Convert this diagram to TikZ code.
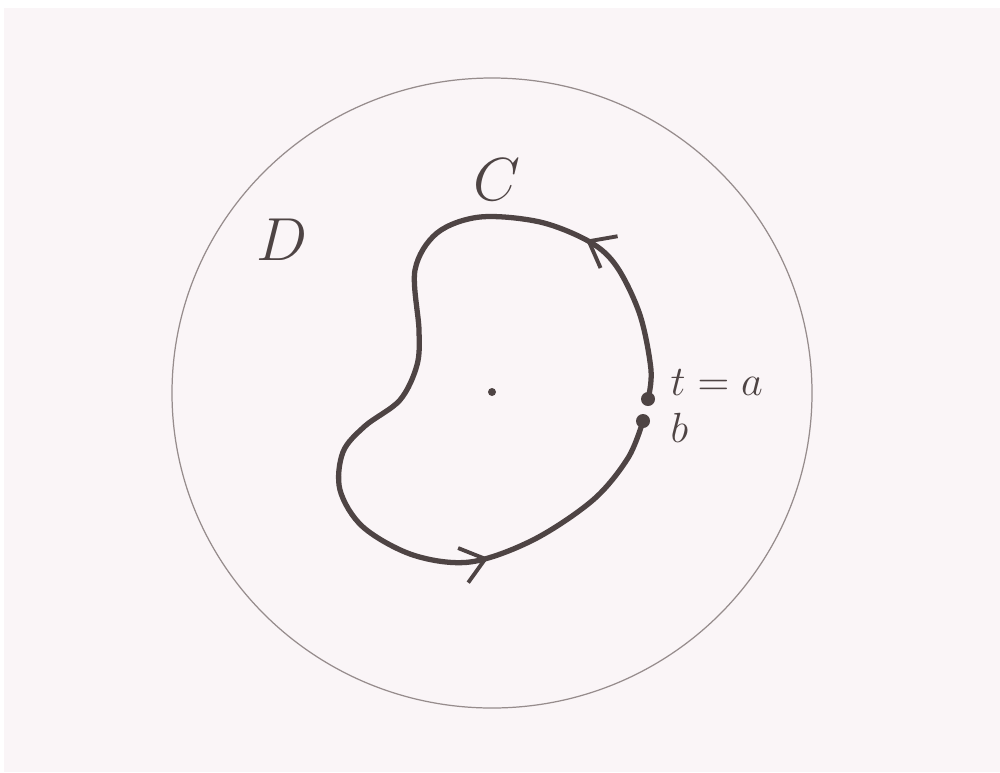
\documentclass[tikz,border=0pt]{standalone}
\usepackage{amsmath}
\usepackage{tikz}
\usetikzlibrary{arrows.meta, decorations.markings}

\definecolor{paper}{RGB}{250,245,247}
\definecolor{pencil}{RGB}{78,68,68}
\definecolor{rimgray}{RGB}{150,140,140}

\begin{document}
\begin{tikzpicture}[
  x=0.01cm, y=-0.01cm,
  rim/.style={rimgray, line width=0.35pt},
  curve/.style={pencil, line width=1.5pt, line cap=round, line join=round,
    decoration={markings,
      mark=at position 0.176 with {\arrow{Straight Barb[length=2.3mm, width=3.6mm, line width=1.1pt]}},
      mark=at position 0.79 with {\arrow{Straight Barb[length=2.3mm, width=3.6mm, line width=1.1pt]}}},
    postaction={decorate}},
  pt/.style={fill=pencil},
  lbl/.style={text=pencil, inner sep=0pt}
]
% paper
\fill[white] (0,0) rectangle (1000,772);
\fill[paper] (4,8) rectangle (1000,772);
\useasboundingbox (0,0) rectangle (1000,772);

% region D
\draw[rim] (492,393) ellipse [x radius=320, y radius=315];
\node[lbl, font=\LARGE] (D) at (282,240) {$D$};

% end points of the curve
\coordinate (a) at (648,399);
\coordinate (b) at (643,421);
\coordinate (o) at (492,392);

% the curve C
\draw[curve] plot[smooth, tension=0.55] coordinates {
  (a) (651,370) (640,315) (617,267) (590,242) (540,222) (480,217)
  (437,233) (415,270) (419,330) (417,365) (400,400) (365,426)
  (343,452) (340,490) (363,527) (413,555) (470,562) (533,540)
  (593,500) (628,458) (b)};
\node[lbl, font=\LARGE] (C) at (497,180) {$C$};

% points
\fill[pt] (a) circle (7);
\fill[pt] (b) circle (7);
\fill[pt] (o) circle (4);
\node[lbl, font=\large, anchor=base west] (ta) at (670,395) {$t=a$};
\node[lbl, font=\large, anchor=base west] (tb) at (670,442) {$b$};
\end{tikzpicture}
\end{document}
